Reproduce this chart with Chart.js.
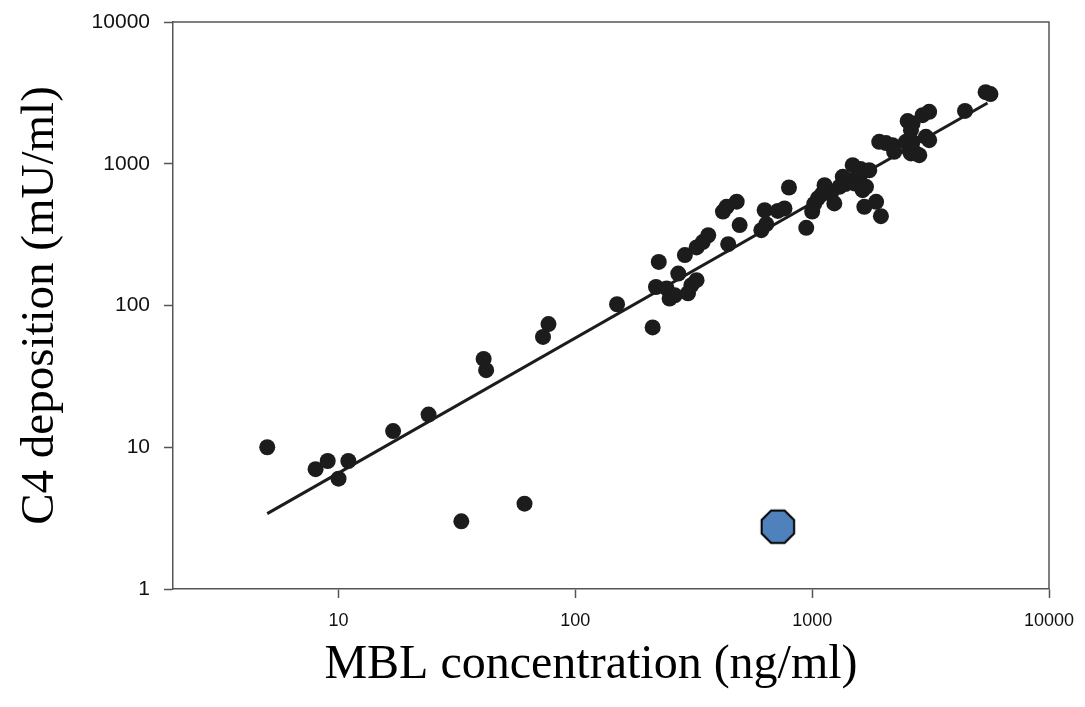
<!DOCTYPE html>
<html>
<head>
<meta charset="utf-8">
<script src="https://cdn.jsdelivr.net/npm/chart.js@4.4.1/dist/chart.umd.min.js"></script>
<style>
  body { margin: 0; background: #fff; }
</style>
</head>
<body>
<canvas id="chart" width="1085" height="707"></canvas>
<script>
// MBL concentration vs C4 deposition (log-log scatter)

const mblValues = [5, 8, 9, 10, 11, 17, 24, 33, 61, 41, 42, 73, 77,
  150, 212, 225, 219, 243, 250, 263, 272, 290, 299, 309, 325, 325, 345, 364,
  420, 435, 442, 480, 494, 610, 630, 640, 716, 764, 798, 944,
  1000, 1020, 1057, 1100, 1128, 1200, 1240, 1303, 1346, 1380, 1436, 1483, 1507,
  1585, 1600, 1633, 1660, 1688, 1742, 1862, 1919, 1951, 2050, 2184, 2219,
  2487, 2530, 2570, 2613, 2653, 2653, 2613, 2750, 2833, 2925, 3021, 3119, 3119,
  4420, 5400, 5660];
const c4Values = [10, 7, 8, 6, 8, 13, 17, 3, 4, 42, 35, 60, 74,
  102, 70, 203, 135, 132, 112, 118, 168, 227, 122, 139, 151, 257, 280, 313,
  460, 497, 271, 540, 369, 340, 470, 375, 465, 484, 680, 353,
  460, 520, 570, 610, 706, 617, 525, 687, 809, 720, 766, 977, 726,
  809, 920, 651, 497, 687, 900, 539, 1427, 427, 1400, 1352, 1213,
  1427, 2000, 1247, 1182, 1427, 1924, 1726, 1180, 1150, 2200, 1548, 1467, 2323,
  2360, 3200, 3100];

// regression line end points
const fitX = [5, 5500];
const fitY = [3.4, 2680];

// highlighted sample
const outlierX = [716];
const outlierY = [2.75];

const xTicks = [10, 100, 1000, 10000];
const yTicks = [1, 10, 100, 1000, 10000];

const xTitle = 'MBL concentration (ng/ml)';
const yTitle = 'C4 deposition (mU/ml)';

const points = mblValues.map((v, i) => ({ x: v, y: c4Values[i] }));
const fitLine = fitX.map((v, i) => ({ x: v, y: fitY[i] }));
const outlier = outlierX.map((v, i) => ({ x: v, y: outlierY[i] }));

// octagon marker
const octagon = document.createElement('canvas');
octagon.width = 40;
octagon.height = 40;
const octx = octagon.getContext('2d');
octx.beginPath();
for (let k = 0; k < 8; k++) {
  const a = Math.PI / 8 + k * Math.PI / 4;
  const px = 20 + 17.6 * Math.cos(a);
  const py = 20 + 17.6 * Math.sin(a);
  if (k === 0) octx.moveTo(px, py); else octx.lineTo(px, py);
}
octx.closePath();
octx.fillStyle = '#4f81bd';
octx.fill();
octx.lineWidth = 2;
octx.strokeStyle = '#000';
octx.stroke();

// top/right frame lines and the x axis title (sits a bit left of centre)
const frame = {
  id: 'frame',
  afterDraw(chart) {
    const { ctx, chartArea } = chart;
    ctx.save();
    ctx.strokeStyle = '#555';
    ctx.lineWidth = 1.5;
    ctx.beginPath();
    ctx.moveTo(chartArea.left, chartArea.top);
    ctx.lineTo(chartArea.right, chartArea.top);
    ctx.lineTo(chartArea.right, chartArea.bottom);
    ctx.stroke();

    ctx.fillStyle = '#000';
    ctx.font = '48px "Liberation Serif", "Times New Roman", serif';
    ctx.textAlign = 'center';
    ctx.textBaseline = 'middle';
    ctx.fillText(xTitle, (chartArea.left + chartArea.right) / 2 - 20, chartArea.bottom + 76);
    ctx.restore();
  }
};

const ctx = document.getElementById('chart').getContext('2d');
const myChart = new Chart(ctx, {
  type: 'scatter',
  data: {
    datasets: [
      {
        label: 'outlier',
        data: outlier,
        pointStyle: octagon,
        order: 0
      },
      {
        type: 'line',
        label: 'fit',
        data: fitLine,
        borderColor: '#1c1c1c',
        borderWidth: 3,
        pointRadius: 0,
        fill: false,
        order: 1
      },
      {
        label: 'samples',
        data: points,
        backgroundColor: '#1c1c1c',
        borderColor: '#1c1c1c',
        borderWidth: 0,
        pointRadius: 8,
        order: 2
      }
    ]
  },
  options: {
    responsive: false,
    animation: false,
    layout: { padding: { top: 22, right: 36, left: 0, bottom: 0 } },
    plugins: {
      legend: { display: false },
      tooltip: { enabled: false }
    },
    scales: {
      x: {
        type: 'logarithmic',
        min: 2,
        max: 10000,
        afterBuildTicks: (scale) => { scale.ticks = xTicks.map(v => ({ value: v })); },
        afterFit: (scale) => {
          scale.height = 118;
          scale.paddingLeft = 0;
          scale.paddingRight = 0;
        },
        grid: { drawOnChartArea: false, tickLength: 9, color: '#555', tickWidth: 1.5 },
        border: { color: '#555', width: 1.5 },
        ticks: {
          autoSkip: false,
          maxRotation: 0,
          color: '#111',
          padding: 12,
          font: { family: 'Liberation Sans, Arial', size: 18 },
          callback: (v) => String(v)
        },
        title: { display: false }
      },
      y: {
        type: 'logarithmic',
        min: 1,
        max: 10000,
        afterBuildTicks: (scale) => { scale.ticks = yTicks.map(v => ({ value: v })); },
        afterFit: (scale) => {
          scale.width = 173;
          scale.paddingTop = 0;
          scale.paddingBottom = 0;
        },
        grid: { drawOnChartArea: false, tickLength: 9, color: '#555', tickWidth: 1.5 },
        border: { color: '#555', width: 1.5 },
        ticks: {
          autoSkip: false,
          color: '#111',
          padding: 14,
          font: { family: 'Liberation Sans, Arial', size: 21 },
          callback: (v) => String(v)
        },
        title: {
          display: true,
          text: yTitle,
          color: '#000',
          padding: { top: 12, bottom: 0 },
          font: { family: 'Liberation Serif, Times New Roman', size: 47 }
        }
      }
    }
  },
  plugins: [frame]
});
</script>
</body>
</html>
